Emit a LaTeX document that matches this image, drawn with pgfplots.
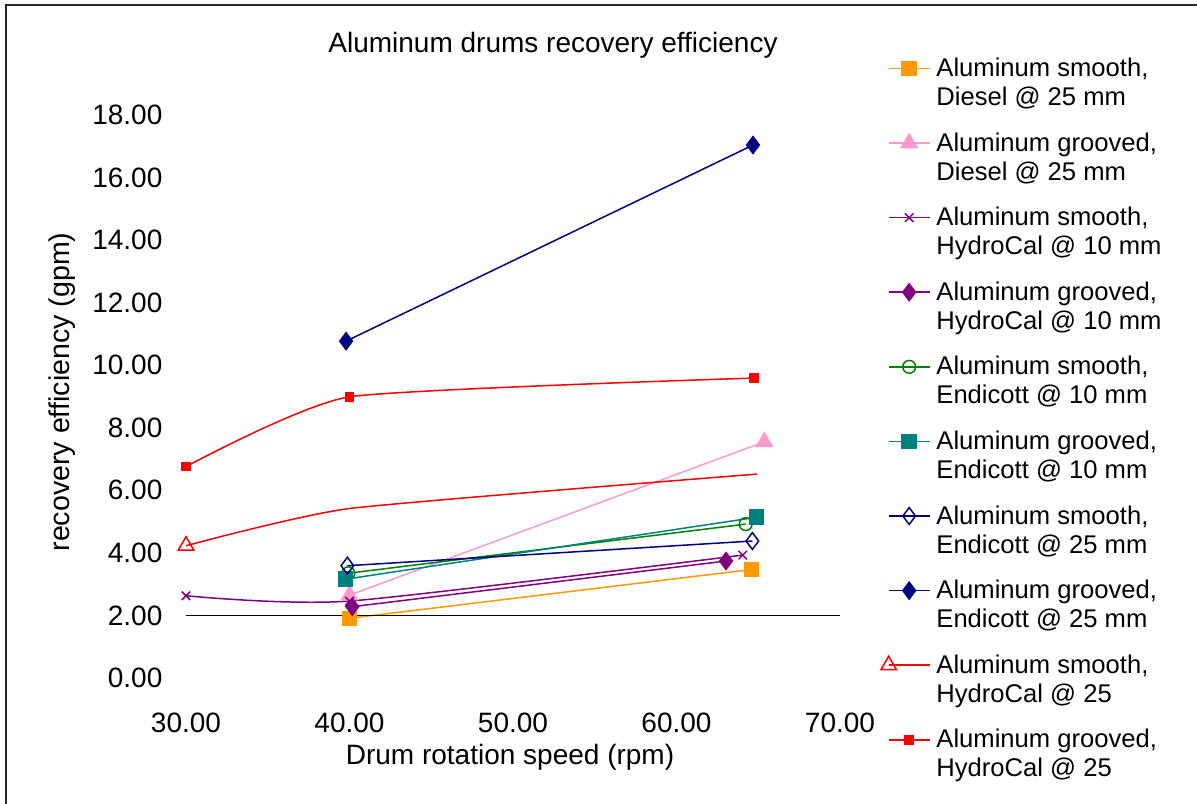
\documentclass[border=0pt]{standalone}
\usepackage{fontspec}
\setmainfont{Liberation Sans}
\usepackage{pgfplots}
\pgfplotsset{compat=1.18}
\definecolor{cOrange}{HTML}{FF9900}
\definecolor{cPink}{HTML}{FF99CC}
\definecolor{cPurple}{HTML}{800080}
\definecolor{cGreen}{HTML}{008000}
\definecolor{cTeal}{HTML}{008080}
\definecolor{cNavy}{HTML}{000080}
\definecolor{cRed}{HTML}{FF0000}
\newcommand{\legtwo}[2]{\parbox[t]{125pt}{#1\\#2}}
\begin{document}
\begin{tikzpicture}
\useasboundingbox (0,0) rectangle (598.5pt,-401.5pt);
\draw[line width=1pt, black!85] (3pt,-402pt) -- (3pt,-2.5pt) -- (599pt,-2.5pt);
\begin{axis}[
  at={(93pt,-339pt)}, anchor=south west,
  scale only axis, width=327pt, height=281.5pt,
  xmin=30, xmax=70, ymin=0, ymax=18,
  xtick={30,40,50,60,70}, ytick={0,2,...,18},
  axis line style={draw=none},
  major tick length=0pt,
  clip=false,
  tick label style={font=\fontsize{14}{16}\selectfont},
  /pgf/number format/assume math mode=true,
  xticklabel={\pgfmathprintnumber[fixed,fixed zerofill,precision=2]{\tick}},
  yticklabel={\pgfmathprintnumber[fixed,fixed zerofill,precision=2]{\tick}},
  xticklabel style={yshift=-14pt},
  yticklabel style={xshift=-8.3pt},
  legend style={at={(1.0619,1.1497)}, anchor=north west, draw=none, fill=none,
    inner sep=0pt, row sep=0pt,
    font=\fontsize{12.8}{14.5}\selectfont,
    nodes={inner sep=0pt, text height=22.65pt, text depth=14.65pt},
    /tikz/every odd column/.append style={column sep=3pt}},
  legend cell align=left,
  legend image code/.code={\draw[mark repeat=2,mark phase=2] plot coordinates {(0pt,0pt) (10.25pt,0pt) (20.5pt,0pt)};},
  every axis plot/.append style={line width=0.75pt},
]
\addplot[color=cOrange, mark=square*, mark size=3.5pt] coordinates {(39.99,1.91) (64.6,3.47)};
\addlegendentry{\legtwo{Aluminum smooth,}{Diesel @ 25 mm}}
\addplot[color=cPink, mark=triangle*, mark size=4.5pt] coordinates {(40.0,2.65) (65.37,7.55)};
\addlegendentry{\legtwo{Aluminum grooved,}{Diesel @ 25 mm}}
\addplot[color=cPurple, mark=x, mark size=3pt, smooth, tension=0.4] coordinates {(30,2.63) (40,2.46) (64.05,3.93)};
\addlegendentry{\legtwo{Aluminum smooth,}{HydroCal @ 10 mm}}
\addplot[color=cPurple, mark=diamond*, mark size=4.2pt] coordinates {(40.17,2.28) (63.03,3.74)};
\addlegendentry{\legtwo{Aluminum grooved,}{HydroCal @ 10 mm}}
\addplot[color=cGreen, mark=o, mark size=3.2pt] coordinates {(39.93,3.35) (64.23,4.92)};
\addlegendentry{\legtwo{Aluminum smooth,}{Endicott @ 10 mm}}
\addplot[color=cTeal, mark=square*, mark size=3.5pt] coordinates {(39.77,3.16) (64.9,5.14)};
\addlegendentry{\legtwo{Aluminum grooved,}{Endicott @ 10 mm}}
\addplot[color=cNavy, mark=diamond, mark size=4.2pt] coordinates {(39.87,3.59) (64.64,4.38)};
\addlegendentry{\legtwo{Aluminum smooth,}{Endicott @ 25 mm}}
\addplot[color=cNavy, mark=diamond*, mark size=4.2pt] coordinates {(39.79,10.77) (64.68,17.04)};
\addlegendentry{\legtwo{Aluminum grooved,}{Endicott @ 25 mm}}
\addplot[color=cRed, mark=triangle, mark size=4.5pt, smooth, tension=0.3, mark indices={1}] coordinates {(30,4.23) (40,5.42) (64.92,6.52)};
\addlegendentry{\legtwo{Aluminum smooth,}{HydroCal @ 25}}
\addplot[color=cRed, mark=square*, mark size=2pt, smooth, tension=0.3] coordinates {(30,6.76) (39.99,8.99) (64.74,9.59)};
\addlegendentry{\legtwo{Aluminum grooved,}{HydroCal @ 25}}
\draw[black, line width=0.75pt] (axis cs:30,2) -- (axis cs:70,2);
\end{axis}
\node[font=\fontsize{14}{16}\selectfont] at (276.5pt,-22.5pt) {Aluminum drums recovery efficiency};
\node[font=\fontsize{14}{16}\selectfont] at (255pt,-378.5pt) {Drum rotation speed (rpm)};
\node[font=\fontsize{14.3}{16}\selectfont, rotate=90] at (31pt,-196pt) {recovery efficiency (gpm)};
\end{tikzpicture}
\end{document}
